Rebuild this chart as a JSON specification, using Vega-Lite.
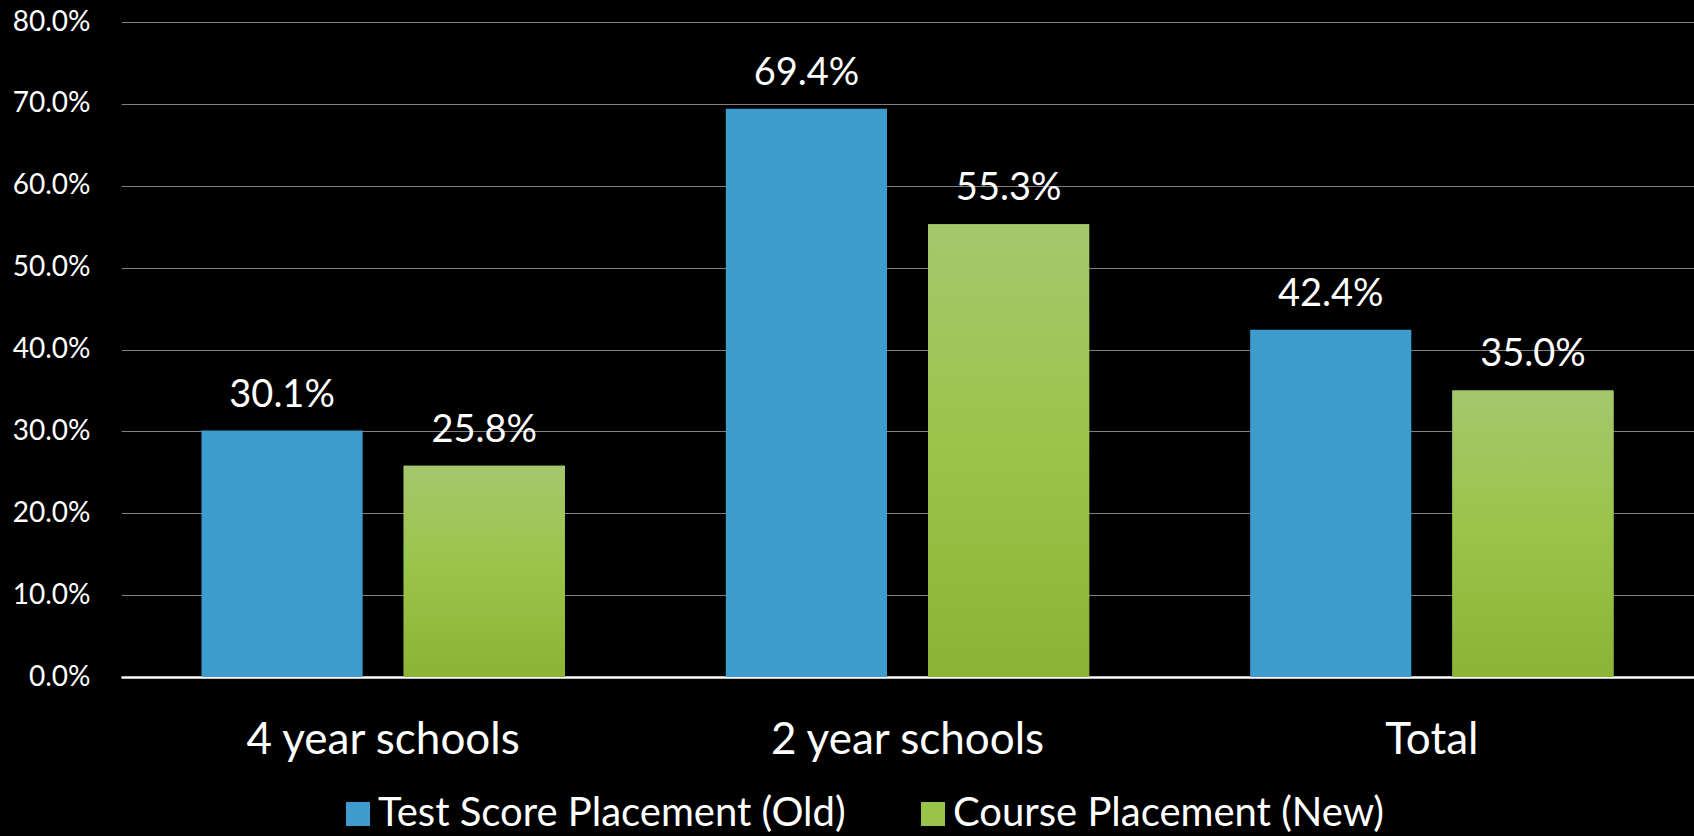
{
  "$schema": "https://vega.github.io/schema/vega-lite/v6.json",
  "width": 1573,
  "height": 655,
  "autosize": {"type": "none"},
  "padding": {"left": 121, "top": 22, "right": 0, "bottom": 159},
  "background": "#000000",
  "config": {"view": {"stroke": null}, "font": "Lato"},
  "data": {
    "values": [
      {"group": "4 year schools", "series": "Test Score Placement (Old)", "value": 0.301},
      {"group": "4 year schools", "series": "Course Placement (New)", "value": 0.258},
      {"group": "2 year schools", "series": "Test Score Placement (Old)", "value": 0.694},
      {"group": "2 year schools", "series": "Course Placement (New)", "value": 0.553},
      {"group": "Total", "series": "Test Score Placement (Old)", "value": 0.424},
      {"group": "Total", "series": "Course Placement (New)", "value": 0.35}
    ]
  },
  "encoding": {
    "x": {
      "field": "group",
      "type": "nominal",
      "sort": ["4 year schools", "2 year schools", "Total"],
      "scale": {"paddingInner": 0.307, "paddingOuter": 0.1535},
      "axis": {
        "title": null,
        "ticks": false,
        "labelAngle": 0,
        "labelColor": "#ffffff",
        "labelFontSize": 44,
        "labelLimit": 1000,
        "labelBaseline": "alphabetic",
        "labelPadding": 76,
        "domainColor": "#ffffff",
        "domainWidth": 2.5,
        "grid": false
      }
    },
    "xOffset": {
      "field": "series",
      "type": "nominal",
      "sort": ["Test Score Placement (Old)", "Course Placement (New)"],
      "scale": {"paddingInner": 0.203, "paddingOuter": 0}
    },
    "y": {
      "field": "value",
      "type": "quantitative",
      "scale": {"domain": [0, 0.8], "nice": false},
      "axis": {
        "title": null,
        "format": ".1%",
        "values": [0, 0.1, 0.2, 0.3, 0.4, 0.5, 0.6, 0.7, 0.8],
        "domain": false,
        "ticks": false,
        "labelColor": "#ffffff",
        "labelFontSize": 28,
        "labelPadding": 31,
        "gridColor": "#808080",
        "gridWidth": 1.2
      }
    }
  },
  "layer": [
    {
      "mark": {"type": "bar"},
      "encoding": {
        "color": {
          "field": "series",
          "type": "nominal",
          "sort": ["Test Score Placement (Old)", "Course Placement (New)"],
          "scale": {"range": ["#3e9bce", "#9ac449"]},
          "legend": {
            "title": null,
            "orient": "none",
            "legendX": 217,
            "legendY": 772,
            "direction": "horizontal",
            "symbolType": "square",
            "symbolSize": 576,
            "symbolStrokeWidth": 0,
            "labelColor": "#ffffff",
            "labelFontSize": 40,
            "labelOffset": 0,
            "columnPadding": 67,
            "labelLimit": 1000
          }
        }
      }
    },
    {
      "transform": [{"filter": "datum.series === 'Course Placement (New)'"}],
      "mark": {
        "type": "bar",
        "fill": {
          "gradient": "linear",
          "x1": 0, "y1": 0, "x2": 0, "y2": 1,
          "stops": [
            {"offset": 0, "color": "#a5c76d"},
            {"offset": 0.5, "color": "#9ac449"},
            {"offset": 1, "color": "#8bb435"}
          ]
        }
      }
    },
    {
      "mark": {"type": "text", "baseline": "alphabetic", "dy": -24, "color": "#ffffff", "fontSize": 38},
      "encoding": {"text": {"field": "value", "type": "quantitative", "format": ".1%"}}
    }
  ]
}
